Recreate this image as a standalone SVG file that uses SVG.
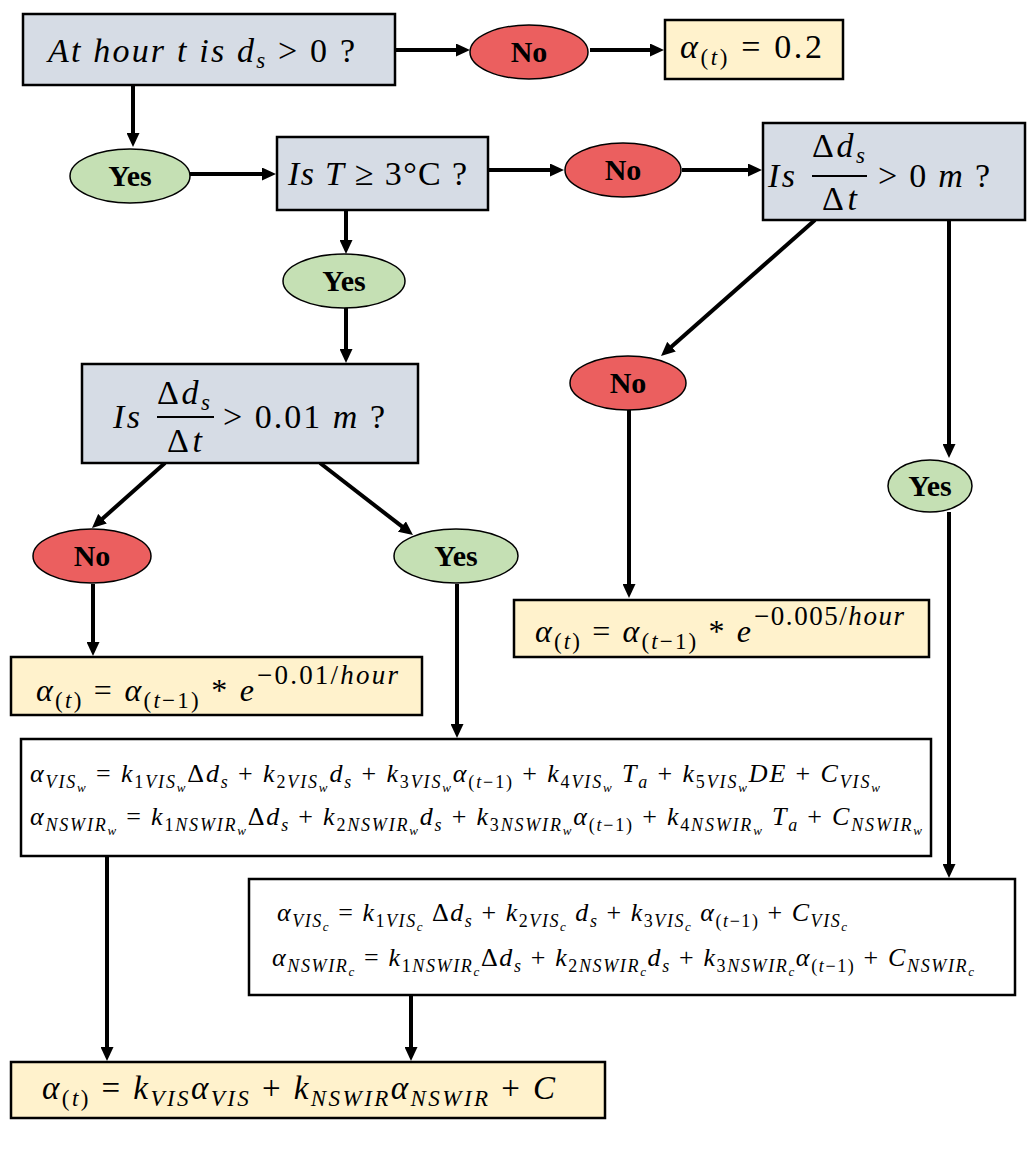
<svg xmlns="http://www.w3.org/2000/svg" width="1034" height="1150" viewBox="0 0 1034 1150">
<defs>
<marker id="ah" markerUnits="userSpaceOnUse" markerWidth="14" markerHeight="13" refX="2" refY="6.5" orient="auto"><path d="M0,0 L14,6.5 L0,13 z" fill="#000"/></marker>
<style>
.box{stroke:#000;stroke-width:2.5}
.q{fill:#d6dce5}.r{fill:#fff2cc}.w{fill:#fff}
.no{fill:#eb5f5f;stroke:#000;stroke-width:1.5}
.yes{fill:#c5e0b4;stroke:#000;stroke-width:1.5}
.lbl{font-family:"Liberation Serif",serif;font-weight:bold;font-size:30px;text-anchor:middle;fill:#000}
.m{font-family:"Liberation Serif",serif;font-style:italic;fill:#000}
.u{font-style:normal}
.s{font-size:18px}.ss{font-size:13px}
.s2{font-size:23px}
.conn line{stroke:#000;stroke-width:4;marker-end:url(#ah)}
.bar{stroke:#000;stroke-width:2}
</style>
</defs>
<rect width="1034" height="1150" fill="#fff"/>
<g class="conn">
<line x1="395" y1="50" x2="458" y2="50"/>
<line x1="590" y1="50" x2="652" y2="50"/>
<line x1="133" y1="85" x2="133" y2="135"/>
<line x1="190" y1="174" x2="264" y2="174"/>
<line x1="488" y1="170" x2="552" y2="170"/>
<line x1="682" y1="170" x2="750" y2="170"/>
<line x1="346" y1="210" x2="346" y2="242"/>
<line x1="346" y1="307" x2="346" y2="351"/>
<line x1="165" y1="463" x2="101" y2="520"/>
<line x1="320" y1="463" x2="403.5" y2="527.7"/>
<line x1="93" y1="584" x2="93" y2="644"/>
<line x1="457" y1="584" x2="457" y2="726"/>
<line x1="815" y1="220" x2="670" y2="348"/>
<line x1="949" y1="220" x2="949" y2="446"/>
<line x1="629" y1="410" x2="629" y2="586"/>
<line x1="949" y1="512" x2="949" y2="866"/>
<line x1="107" y1="856" x2="107" y2="1049"/>
<line x1="411" y1="995" x2="411" y2="1049"/>
</g>
<g id="q1"><rect class="box q" x="23" y="14" width="372" height="71"/>
<text class="m" x="48" y="62" font-size="34" textLength="307" lengthAdjust="spacing">At hour t is d<tspan class="s2" dy="6">s</tspan><tspan class="u" dy="-6"> &gt; 0 ?</tspan></text></g>
<g id="no1"><ellipse class="no" cx="529" cy="52" rx="59" ry="27"/><text class="lbl" x="529" y="62">No</text></g>
<g id="r1"><rect class="box r" x="665" y="20" width="178" height="59"/>
<text class="m" x="680" y="58" font-size="34" textLength="142" lengthAdjust="spacing">α<tspan class="s2 u" dy="7">(</tspan><tspan class="s2">t</tspan><tspan class="s2 u">)</tspan><tspan class="u" dy="-7"> = 0.2</tspan></text></g>
<g id="yes1"><ellipse class="yes" cx="130" cy="176" rx="60" ry="27"/><text class="lbl" x="130" y="186">Yes</text></g>
<g id="q2"><rect class="box q" x="277" y="137" width="211" height="73"/>
<text class="m" x="288" y="185" font-size="34" textLength="179" lengthAdjust="spacing">Is T<tspan class="u"> ≥ 3°C ?</tspan></text></g>
<g id="no2"><ellipse class="no" cx="623" cy="170" rx="58" ry="27"/><text class="lbl" x="623" y="180">No</text></g>
<g id="q3"><rect class="box q" x="763" y="123" width="262" height="97"/>
<text class="m" x="768" y="187" font-size="34" textLength="27" lengthAdjust="spacing">Is</text>
<text class="m" x="812" y="157" font-size="34" textLength="53" lengthAdjust="spacing"><tspan class="u">Δ</tspan>d<tspan class="s2" dy="6">s</tspan></text>
<line class="bar" x1="812" y1="176" x2="867" y2="176"/>
<text class="m" x="822" y="210" font-size="34" textLength="35" lengthAdjust="spacing"><tspan class="u">Δ</tspan>t</text>
<text class="m" x="878" y="187" font-size="34" textLength="112" lengthAdjust="spacing"><tspan class="u">&gt; 0 </tspan>m<tspan class="u"> ?</tspan></text></g>
<g id="yes2"><ellipse class="yes" cx="344" cy="281" rx="61" ry="27"/><text class="lbl" x="344" y="291">Yes</text></g>
<g id="q4"><rect class="box q" x="82" y="364" width="336" height="99"/>
<text class="m" x="113" y="428" font-size="34" textLength="27" lengthAdjust="spacing">Is</text>
<text class="m" x="157" y="404" font-size="34" textLength="53" lengthAdjust="spacing"><tspan class="u">Δ</tspan>d<tspan class="s2" dy="6">s</tspan></text>
<line class="bar" x1="157" y1="417" x2="214" y2="417"/>
<text class="m" x="167" y="452" font-size="34" textLength="35" lengthAdjust="spacing"><tspan class="u">Δ</tspan>t</text>
<text class="m" x="223" y="428" font-size="34" textLength="162" lengthAdjust="spacing"><tspan class="u">&gt; 0.01 </tspan>m<tspan class="u"> ?</tspan></text></g>
<g id="no3"><ellipse class="no" cx="92" cy="556" rx="59" ry="27"/><text class="lbl" x="92" y="566">No</text></g>
<g id="yes3"><ellipse class="yes" cx="456" cy="556" rx="62" ry="27"/><text class="lbl" x="456" y="566">Yes</text></g>
<g id="no4"><ellipse class="no" cx="628" cy="383" rx="58" ry="27"/><text class="lbl" x="628" y="393">No</text></g>
<g id="yes4"><ellipse class="yes" cx="930" cy="486" rx="42" ry="26"/><text class="lbl" x="930" y="496">Yes</text></g>
<g id="r2"><rect class="box r" x="11" y="657" width="411" height="58"/>
<text class="m" x="36" y="701" font-size="32" textLength="218" lengthAdjust="spacing">α<tspan class="s2 u" dy="7">(</tspan><tspan class="s2">t</tspan><tspan class="s2 u">)</tspan><tspan class="u" dy="-7"> =  </tspan>α<tspan class="s2 u" dy="7">(</tspan><tspan class="s2">t</tspan><tspan class="s2 u">−1)</tspan><tspan class="u" dy="-7"> * </tspan>e</text>
<text class="m" x="257" y="684" font-size="27" textLength="141" lengthAdjust="spacing"><tspan class="u">−0.01/</tspan>hour</text></g>
<g id="r3"><rect class="box r" x="514" y="600" width="415" height="57"/>
<text class="m" x="535" y="642" font-size="32" textLength="216" lengthAdjust="spacing">α<tspan class="s2 u" dy="7">(</tspan><tspan class="s2">t</tspan><tspan class="s2 u">)</tspan><tspan class="u" dy="-7"> =  </tspan>α<tspan class="s2 u" dy="7">(</tspan><tspan class="s2">t</tspan><tspan class="s2 u">−1)</tspan><tspan class="u" dy="-7"> * </tspan>e</text>
<text class="m" x="754" y="625" font-size="27" textLength="150" lengthAdjust="spacing"><tspan class="u">−0.005/</tspan>hour</text></g>
<g id="f1"><rect class="box w" x="21" y="739" width="910" height="117"/>
<text class="m" x="30" y="782" font-size="26" textLength="850" lengthAdjust="spacing">α<tspan class="s" dy="6">VIS</tspan><tspan class="ss" dy="4">w</tspan><tspan class="u" dy="-10"> =  </tspan>k<tspan class="s" dy="6"><tspan class="u">1</tspan>VIS</tspan><tspan class="ss" dy="4">w</tspan><tspan class="u" dy="-10">Δ</tspan>d<tspan class="s" dy="6">s</tspan><tspan class="u" dy="-6"> + </tspan>k<tspan class="s" dy="6"><tspan class="u">2</tspan>VIS</tspan><tspan class="ss" dy="4">w</tspan><tspan dy="-10">d</tspan><tspan class="s" dy="6">s</tspan><tspan class="u" dy="-6"> + </tspan>k<tspan class="s" dy="6"><tspan class="u">3</tspan>VIS</tspan><tspan class="ss" dy="4">w</tspan><tspan dy="-10">α</tspan><tspan class="s" dy="6"><tspan class="u">(</tspan>t<tspan class="u">−1)</tspan></tspan><tspan class="u" dy="-6"> + </tspan>k<tspan class="s" dy="6"><tspan class="u">4</tspan>VIS</tspan><tspan class="ss" dy="4">w</tspan><tspan dy="-10"> T</tspan><tspan class="s" dy="6">a</tspan><tspan class="u" dy="-6"> + </tspan>k<tspan class="s" dy="6"><tspan class="u">5</tspan>VIS</tspan><tspan class="ss" dy="4">w</tspan><tspan dy="-10">DE</tspan><tspan class="u"> + </tspan>C<tspan class="s" dy="6">VIS</tspan><tspan class="ss" dy="4">w</tspan></text>
<text class="m" x="30" y="825" font-size="26" textLength="892" lengthAdjust="spacing">α<tspan class="s" dy="6">NSWIR</tspan><tspan class="ss" dy="4">w</tspan><tspan class="u" dy="-10"> = </tspan>k<tspan class="s" dy="6"><tspan class="u">1</tspan>NSWIR</tspan><tspan class="ss" dy="4">w</tspan><tspan class="u" dy="-10">Δ</tspan>d<tspan class="s" dy="6">s</tspan><tspan class="u" dy="-6"> + </tspan>k<tspan class="s" dy="6"><tspan class="u">2</tspan>NSWIR</tspan><tspan class="ss" dy="4">w</tspan><tspan dy="-10">d</tspan><tspan class="s" dy="6">s</tspan><tspan class="u" dy="-6"> + </tspan>k<tspan class="s" dy="6"><tspan class="u">3</tspan>NSWIR</tspan><tspan class="ss" dy="4">w</tspan><tspan dy="-10">α</tspan><tspan class="s" dy="6"><tspan class="u">(</tspan>t<tspan class="u">−1)</tspan></tspan><tspan class="u" dy="-6"> + </tspan>k<tspan class="s" dy="6"><tspan class="u">4</tspan>NSWIR</tspan><tspan class="ss" dy="4">w</tspan><tspan dy="-10"> T</tspan><tspan class="s" dy="6">a</tspan><tspan class="u" dy="-6">  + </tspan>C<tspan class="s" dy="6">NSWIR</tspan><tspan class="ss" dy="4">w</tspan></text></g>
<g id="f2"><rect class="box w" x="249" y="879" width="766" height="116"/>
<text class="m" x="277" y="921" font-size="26" textLength="570" lengthAdjust="spacing">α<tspan class="s" dy="6">VIS</tspan><tspan class="ss" dy="4">c</tspan><tspan class="u" dy="-10"> = </tspan>k<tspan class="s" dy="6"><tspan class="u">1</tspan>VIS</tspan><tspan class="ss" dy="4">c</tspan><tspan class="u" dy="-10"> Δ</tspan>d<tspan class="s" dy="6">s</tspan><tspan class="u" dy="-6"> + </tspan>k<tspan class="s" dy="6"><tspan class="u">2</tspan>VIS</tspan><tspan class="ss" dy="4">c</tspan><tspan dy="-10"> d</tspan><tspan class="s" dy="6">s</tspan><tspan class="u" dy="-6"> + </tspan>k<tspan class="s" dy="6"><tspan class="u">3</tspan>VIS</tspan><tspan class="ss" dy="4">c</tspan><tspan dy="-10"> α</tspan><tspan class="s" dy="6"><tspan class="u">(</tspan>t<tspan class="u">−1)</tspan></tspan><tspan class="u" dy="-6"> + </tspan>C<tspan class="s" dy="6">VIS</tspan><tspan class="ss" dy="4">c</tspan></text>
<text class="m" x="272" y="966" font-size="26" textLength="702" lengthAdjust="spacing">α<tspan class="s" dy="6">NSWIR</tspan><tspan class="ss" dy="4">c</tspan><tspan class="u" dy="-10"> =  </tspan>k<tspan class="s" dy="6"><tspan class="u">1</tspan>NSWIR</tspan><tspan class="ss" dy="4">c</tspan><tspan class="u" dy="-10">Δ</tspan>d<tspan class="s" dy="6">s</tspan><tspan class="u" dy="-6"> + </tspan>k<tspan class="s" dy="6"><tspan class="u">2</tspan>NSWIR</tspan><tspan class="ss" dy="4">c</tspan><tspan dy="-10">d</tspan><tspan class="s" dy="6">s</tspan><tspan class="u" dy="-6"> + </tspan>k<tspan class="s" dy="6"><tspan class="u">3</tspan>NSWIR</tspan><tspan class="ss" dy="4">c</tspan><tspan dy="-10">α</tspan><tspan class="s" dy="6"><tspan class="u">(</tspan>t<tspan class="u">−1)</tspan></tspan><tspan class="u" dy="-6"> + </tspan>C<tspan class="s" dy="6">NSWIR</tspan><tspan class="ss" dy="4">c</tspan></text></g>
<g id="r4"><rect class="box r" x="11" y="1062" width="594" height="56"/>
<text class="m" x="42" y="1099" font-size="33" textLength="513" lengthAdjust="spacing">α<tspan class="s2 u" dy="7">(</tspan><tspan class="s2">t</tspan><tspan class="s2 u">)</tspan><tspan class="u" dy="-7"> = </tspan>k<tspan class="s2" dy="7">VIS</tspan><tspan dy="-7">α</tspan><tspan class="s2" dy="7">VIS</tspan><tspan class="u" dy="-7"> + </tspan>k<tspan class="s2" dy="7">NSWIR</tspan><tspan dy="-7">α</tspan><tspan class="s2" dy="7">NSWIR</tspan><tspan class="u" dy="-7"> + </tspan>C</text></g>
</svg>
